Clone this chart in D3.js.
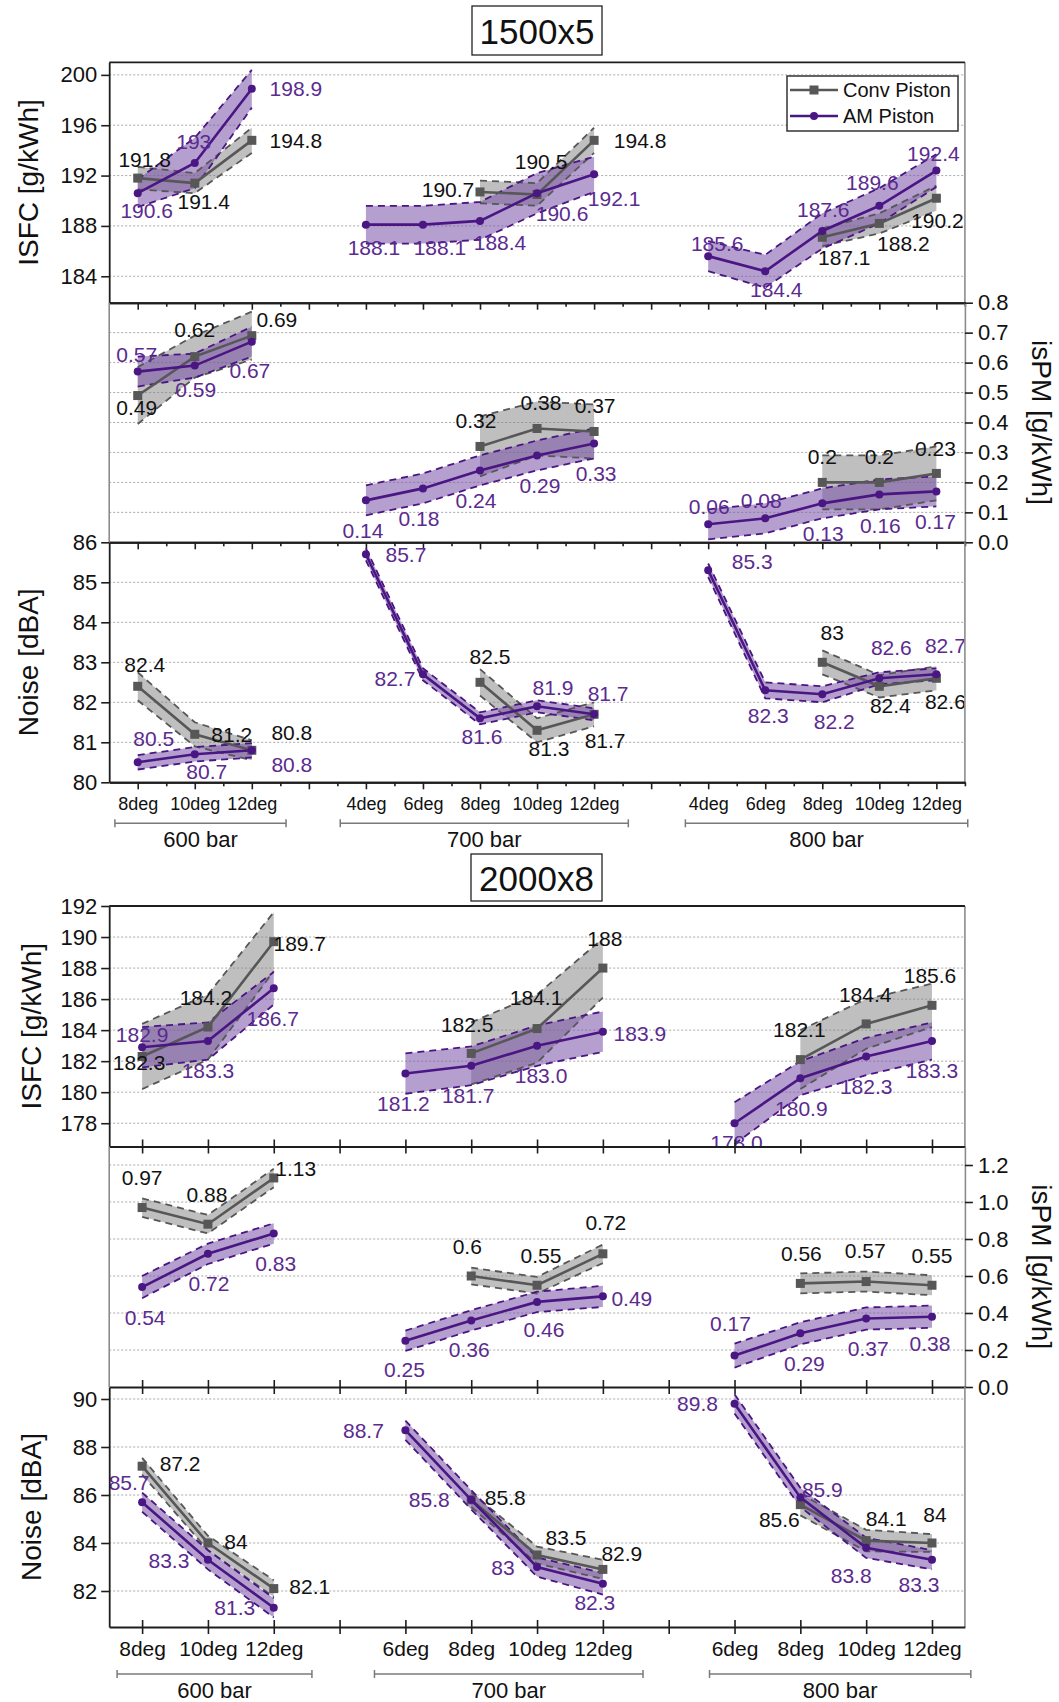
<!DOCTYPE html>
<html><head><meta charset="utf-8">
<script src="https://cdn.jsdelivr.net/npm/d3@7"></script>
<style>
body{margin:0;background:#fff}
svg{display:block;font-family:"Liberation Sans",Arial,sans-serif}
</style>
</head><body>
<svg id="c" width="1059" height="1702"></svg>
<script>
// ---------------- DATA ----------------
const seriesNames = ["Conv Piston", "AM Piston"];
const chartTitles = ["1500x5", "2000x8"];

// 1500x5
const catsA = ["8deg","10deg","12deg","","4deg","6deg","8deg","10deg","12deg","","4deg","6deg","8deg","10deg","12deg"];
const groupsA = ["600 bar","700 bar","800 bar"];
const isfcA_conv    = [191.8,191.4,194.8,null,null,null,190.7,190.5,194.8,null,null,null,187.1,188.2,190.2];
const isfcA_convErr = [0.9,0.8,1.0,null,null,null,0.9,0.9,1.0,null,null,null,0.7,0.8,1.0];
const isfcA_am      = [190.6,193,198.9,null,188.1,188.1,188.4,190.6,192.1,null,185.6,184.4,187.6,189.6,192.4];
const isfcA_amErr   = [1.1,2.0,1.5,null,1.5,1.5,1.5,1.6,1.4,null,1.2,1.3,1.4,1.4,1.3];
const pmA_conv      = [0.49,0.62,0.69,null,null,null,0.32,0.38,0.37,null,null,null,0.2,0.2,0.23];
const pmA_convErr   = [0.095,0.07,0.08,null,null,null,0.1,0.09,0.09,null,null,null,0.09,0.09,0.09];
const pmA_am        = [0.57,0.59,0.67,null,0.14,0.18,0.24,0.29,0.33,null,0.06,0.08,0.13,0.16,0.17];
const pmA_amErr     = [0.05,0.04,0.05,null,0.05,0.05,0.05,0.05,0.05,null,0.05,0.05,0.05,0.05,0.05];
const noiseA_conv    = [82.4,81.2,80.8,null,null,null,82.5,81.3,81.7,null,null,null,83,82.4,82.6];
const noiseA_convErr = [0.35,0.3,0.25,null,null,null,0.33,0.3,0.3,null,null,null,0.3,0.28,0.3];
const noiseA_am      = [80.5,80.7,80.8,null,85.7,82.7,81.6,81.9,81.7,null,85.3,82.3,82.2,82.6,82.7];
const noiseA_amErr   = [0.18,0.18,0.18,null,0.15,0.15,0.15,0.15,0.15,null,0.17,0.2,0.2,0.15,0.15];

// 2000x8
const catsB = ["8deg","10deg","12deg","","6deg","8deg","10deg","12deg","","6deg","8deg","10deg","12deg"];
const groupsB = ["600 bar","700 bar","800 bar"];
const isfcB_conv    = [182.3,184.2,189.7,null,null,182.5,184.1,188,null,null,182.1,184.4,185.6];
const isfcB_convErr = [2.1,2.1,1.9,null,null,2.0,2.2,1.9,null,null,1.9,1.6,1.4];
const isfcB_am      = [182.9,183.3,186.7,null,181.2,181.7,183.0,183.9,null,178.0,180.9,182.3,183.3];
const isfcB_amErr   = [1.3,1.2,1.05,null,1.3,1.25,1.3,1.3,null,1.35,1.1,1.2,1.2];
const pmB_conv      = [0.97,0.88,1.13,null,null,0.6,0.55,0.72,null,null,0.56,0.57,0.55];
const pmB_convErr   = [0.05,0.05,0.05,null,null,0.045,0.045,0.05,null,null,0.054,0.054,0.054];
const pmB_am        = [0.54,0.72,0.83,null,0.25,0.36,0.46,0.49,null,0.17,0.29,0.37,0.38];
const pmB_amErr     = [0.06,0.055,0.055,null,0.055,0.055,0.055,0.057,null,0.065,0.06,0.06,0.06];
const noiseB_conv    = [87.2,84,82.1,null,null,85.8,83.5,82.9,null,null,85.6,84.1,84];
const noiseB_convErr = [0.35,0.3,0.35,null,null,0.3,0.35,0.4,null,null,0.45,0.45,0.37];
const noiseB_am      = [85.7,83.3,81.3,null,88.7,85.8,83,82.3,null,89.8,85.9,83.8,83.3];
const noiseB_amErr   = [0.4,0.4,0.4,null,0.4,0.4,0.4,0.45,null,0.4,0.4,0.42,0.4];

// ---------------- LABEL PLACEMENT (pixel offsets from the point) ----------------
const lblA_isfcConv = [[7,-19],[9,18],[44,0],null,null,null,[-32,-2],[4,-33],[46,0],null,null,null,[22,20],[24,20],[1,22]];
const lblA_isfcAm   = [[9,17],[-1,-21],[44,0],null,[8,23],[17,23],[20,22],[25,20],[20,24],null,[9,-13],[11,18],[1,-21],[-7,-23],[-3,-17]];
const lblA_pmConv   = [[-1,12],[0,-27],[25,-16],null,null,null,[-4,-26],[4,-26],[1,-26],null,null,null,[0,-26],[0,-26],[-1,-25]];
const lblA_pmAm     = [[-1,-17],[1,24],[-2,29],null,[-3,30],[-4,30],[-4,30],[3,30],[2,30],null,[1,-18],[-4,-18],[1,30],[1,31],[-1,30]];
const lblA_nzConv   = [[7,-22],[37,0],[40,-18],null,null,null,[10,-26],[12,18],[11,26],null,null,null,[10,-30],[11,19],[9,23]];
const lblA_nzAm     = [[16,-24],[12,17],[40,14],null,[40,0],[-28,4],[2,18],[16,-19],[14,-21],null,[44,-9],[3,25],[12,27],[12,-31],[9,-29]];
const lblB_isfcConv = [[-3,6],[-2,-30],[26,2],null,null,[-4,-29],[-1,-31],[2,-30],null,null,[-1,-30],[-1,-29],[-2,-30]];
const lblB_isfcAm   = [[0,-13],[0,30],[-1,30],null,[-2,30],[-3,30],[4,30],[37,2],null,[2,19],[1,30],[0,30],[0,30]];
const lblB_pmConv   = [[0,-30],[-1,-30],[22,-9],null,null,[-4,-30],[4,-30],[3,-31],null,null,[1,-30],[-1,-31],[0,-30]];
const lblB_pmAm     = [[3,30],[1,30],[2,30],null,[-1,29],[-2,29],[7,28],[29,2],null,[-4,-32],[4,30],[2,30],[-2,27]];
const lblB_nzConv   = [[38,-3],[28,-2],[36,-2],null,null,[34,-2],[29,-18],[19,-16],null,null,[-21,15],[20,-22],[3,-29]];
const lblB_nzAm     = [[-13,-20],[-39,1],[-39,0],null,[-42,0],[-42,0],[-34,0],[-8,19],null,[-37,0],[22,-8],[-15,28],[-13,25]];

// ---------------- STYLE ----------------
const GREY = "#575757", PURPLE = "#4a1684", PURPLE_TXT = "#5b2b8f";
const GREY_FILL = "rgb(128,128,128)", PURPLE_FILL = "rgb(120,80,165)";
const AXIS = "#1e1e1e", BORDER = "#8c8c8c";
const svg = d3.select("#c");
const defs = svg.append("defs");
const f1 = d3.format(".1f");
const plain = d => String(d);
const LEFT = 109.2, RIGHT = 964.9;

const chartA = {
  title: chartTitles[0], cats: catsA, groups: groupsA,
  groupSpans: [[-0.4,2.6],[3.55,8.6],[9.6,14.55]],
  xDomain: [-0.5,14.5], left: LEFT, right: RIGHT,
  titleBox: [472,6,130,49], minorX: true, cross: false,
  xLabelSize: 18, xLabelDy: 21, bracketY: 823.3, groupY: 839, yTitleX: 28, legend: true,
  panels: [
    {kind:"isfc", y0:62.3, y1:302.7, domain:[181.9,201], major:d3.range(184,201,4), minor:d3.range(182,201,2),
     grid:[184,188,192,196,200], fmt:plain, title:"ISFC [g/kWh]",
     conv:isfcA_conv, convErr:isfcA_convErr, am:isfcA_am, amErr:isfcA_amErr,
     convLbl:lblA_isfcConv, amLbl:lblA_isfcAm, convFmt:plain, amFmt:plain},
    {kind:"pm", y0:302.7, y1:542.3, domain:[0,0.8], major:d3.range(0,0.81,0.1), minor:d3.range(0.05,0.8,0.1),
     grid:[0.1,0.2,0.3,0.4,0.5,0.6,0.7], fmt:f1, title:"isPM [g/kWh]",
     conv:pmA_conv, convErr:pmA_convErr, am:pmA_am, amErr:pmA_amErr,
     convLbl:lblA_pmConv, amLbl:lblA_pmAm, convFmt:plain, amFmt:plain},
    {kind:"noise", y0:542.3, y1:782.3, domain:[80,86], major:d3.range(80,86.01,1), minor:d3.range(80.5,86,1),
     grid:[81,82,83,84,85], fmt:plain, title:"Noise [dBA]",
     conv:noiseA_conv, convErr:noiseA_convErr, am:noiseA_am, amErr:noiseA_amErr,
     convLbl:lblA_nzConv, amLbl:lblA_nzAm, convFmt:plain, amFmt:plain}
  ]
};
const chartB = {
  title: chartTitles[1], cats: catsB, groups: groupsB,
  groupSpans: [[-0.38,2.58],[3.53,7.61],[8.62,12.59]],
  xDomain: [-0.5,12.5], left: LEFT, right: RIGHT,
  titleBox: [471,854,131,47], minorX: false, cross: true,
  xLabelSize: 21, xLabelDy: 22, bracketY: 1674, groupY: 1690, yTitleX: 31, legend: false,
  panels: [
    {kind:"isfc", y0:906, y1:1146.5, domain:[176.5,192], major:d3.range(178,192.01,2), minor:d3.range(177,192,1),
     grid:[178,180,182,184,186,188,190], fmt:plain, title:"ISFC [g/kWh]",
     conv:isfcB_conv, convErr:isfcB_convErr, am:isfcB_am, amErr:isfcB_amErr,
     convLbl:lblB_isfcConv, amLbl:lblB_isfcAm, convFmt:plain, amFmt:f1},
    {kind:"pm", y0:1146.5, y1:1387, domain:[0,1.3], major:d3.range(0,1.21,0.2), minor:d3.range(0.1,1.3,0.2),
     grid:[0.2,0.4,0.6,0.8,1.0,1.2], fmt:f1, title:"isPM [g/kWh]",
     conv:pmB_conv, convErr:pmB_convErr, am:pmB_am, amErr:pmB_amErr,
     convLbl:lblB_pmConv, amLbl:lblB_pmAm, convFmt:plain, amFmt:plain},
    {kind:"noise", y0:1387, y1:1627, domain:[80.5,90.5], major:d3.range(82,90.01,2), minor:d3.range(81,90.5,1),
     grid:[82,84,86,88,90], fmt:plain, title:"Noise [dBA]",
     conv:noiseB_conv, convErr:noiseB_convErr, am:noiseB_am, amErr:noiseB_amErr,
     convLbl:lblB_nzConv, amLbl:lblB_nzAm, convFmt:plain, amFmt:plain}
  ]
};

function runs(vals){
  const out=[]; let cur=[];
  vals.forEach((v,i)=>{ if(v==null){ if(cur.length) out.push(cur); cur=[]; } else cur.push(i); });
  if(cur.length) out.push(cur);
  return out;
}

let clipCount = 0;
function drawPanel(root, c, x, p, isLast){
  const y = d3.scaleLinear().domain(p.domain).range([p.y1, p.y0]);
  const g = root.append("g");
  const id = "clip" + (clipCount++);
  defs.append("clipPath").attr("id", id).append("rect")
    .attr("x", c.left).attr("y", p.y0).attr("width", c.right - c.left).attr("height", p.y1 - p.y0);

  g.append("g").selectAll("line").data(p.grid).join("line")
    .attr("x1", c.left).attr("x2", c.right).attr("y1", d=>y(d)).attr("y2", d=>y(d))
    .attr("stroke", "#a8a8a8").attr("stroke-width", 1).attr("stroke-dasharray", "2,2");

  const body = g.append("g").attr("clip-path", `url(#${id})`);
  const series = [
    {vals:p.conv, errs:p.convErr, lbl:p.convLbl, fmt:p.convFmt, line:GREY, fill:GREY_FILL, op:0.5, txt:"#111", marker:"square"},
    {vals:p.am, errs:p.amErr, lbl:p.amLbl, fmt:p.amFmt, line:PURPLE, fill:PURPLE_FILL, op:0.55, txt:PURPLE_TXT, marker:"circle"}
  ];
  series.forEach(s=>{
    const area = d3.area().x(i=>x(i)).y0(i=>y(s.vals[i]-s.errs[i])).y1(i=>y(s.vals[i]+s.errs[i]));
    runs(s.vals).forEach(r=>{
      body.append("path").attr("d", area(r)).attr("fill", s.fill).attr("fill-opacity", s.op);
    });
  });
  series.forEach(s=>{
    const hi = d3.line().x(i=>x(i)).y(i=>y(s.vals[i]+s.errs[i]));
    const lo = d3.line().x(i=>x(i)).y(i=>y(s.vals[i]-s.errs[i]));
    runs(s.vals).forEach(r=>{
      [hi,lo].forEach(fn=>body.append("path").attr("d", fn(r)).attr("fill","none")
        .attr("stroke", s.line).attr("stroke-width", 1.8).attr("stroke-dasharray", "7,5"));
    });
  });
  series.forEach(s=>{
    const ln = d3.line().x(i=>x(i)).y(i=>y(s.vals[i]));
    runs(s.vals).forEach(r=>{
      body.append("path").attr("d", ln(r)).attr("fill","none").attr("stroke", s.line).attr("stroke-width", 2.6);
    });
    const idx = s.vals.map((v,i)=>i).filter(i=>s.vals[i]!=null);
    if(s.marker==="square"){
      body.append("g").selectAll("rect").data(idx).join("rect")
        .attr("x", i=>x(i)-4.5).attr("y", i=>y(s.vals[i])-4.5).attr("width",9).attr("height",9).attr("fill", s.line);
    } else {
      body.append("g").selectAll("circle").data(idx).join("circle")
        .attr("cx", i=>x(i)).attr("cy", i=>y(s.vals[i])).attr("r", 4).attr("fill", s.line);
    }
  });
  series.forEach(s=>{
    const idx = s.vals.map((v,i)=>i).filter(i=>s.vals[i]!=null);
    body.append("g").selectAll("text").data(idx).join("text")
      .attr("x", i=>x(i)+s.lbl[i][0]).attr("y", i=>y(s.vals[i])+s.lbl[i][1])
      .attr("text-anchor","middle").attr("dominant-baseline","central")
      .attr("font-size", 21).attr("fill", s.txt).text(i=>s.fmt(s.vals[i]));
  });

  const isPM = p.kind === "pm";
  if(isPM){
    g.append("line").attr("x1",c.left).attr("x2",c.left).attr("y1",p.y0).attr("y2",p.y1).attr("stroke",BORDER).attr("stroke-width",1.6);
    const ax = g.append("g").attr("transform",`translate(${c.right},0)`);
    ax.call(d3.axisRight(y).tickValues(p.minor).tickSize(4).tickFormat("").tickSizeOuter(0));
    ax.call(d3.axisRight(y).tickValues(p.major).tickSize(8).tickPadding(5).tickFormat(p.fmt).tickSizeOuter(0));
    ax.selectAll(".domain").attr("stroke",BORDER).attr("stroke-width",1.6);
    ax.selectAll(".tick line").attr("stroke",AXIS).attr("stroke-width",1.6);
    ax.selectAll(".tick text").attr("font-size",22).attr("fill","#111").attr("font-family",null);
    svg.append("text").attr("transform",`translate(1041,${(p.y0+p.y1)/2}) rotate(90)`)
      .attr("text-anchor","middle").attr("dominant-baseline","central").attr("font-size",28).attr("fill","#111").text(p.title);
  } else {
    g.append("line").attr("x1",c.right).attr("x2",c.right).attr("y1",p.y0).attr("y2",p.y1).attr("stroke",BORDER).attr("stroke-width",1.6);
    const ax = g.append("g").attr("transform",`translate(${c.left},0)`);
    ax.call(d3.axisLeft(y).tickValues(p.minor).tickSize(4).tickFormat("").tickSizeOuter(0));
    ax.call(d3.axisLeft(y).tickValues(p.major).tickSize(8).tickPadding(4).tickFormat(p.fmt).tickSizeOuter(0));
    ax.selectAll(".domain").attr("stroke",AXIS).attr("stroke-width",1.8);
    ax.selectAll(".tick line").attr("stroke",AXIS).attr("stroke-width",1.6);
    ax.selectAll(".tick text").attr("font-size",22).attr("fill","#111").attr("font-family",null);
    svg.append("text").attr("transform",`translate(${c.yTitleX},${(p.y0+p.y1)/2}) rotate(-90)`)
      .attr("text-anchor","middle").attr("dominant-baseline","central").attr("font-size",28).attr("fill","#111").text(p.title);
  }
  if(p.kind==="isfc"){
    g.append("line").attr("x1",c.left).attr("x2",c.right).attr("y1",p.y0).attr("y2",p.y0).attr("stroke",AXIS).attr("stroke-width",1.8);
  }
  const xa = g.append("g").attr("transform",`translate(0,${p.y1})`);
  const majorIdx = d3.range(0, c.cats.length);
  if(c.minorX){
    xa.call(d3.axisBottom(x).tickValues(d3.range(0.5, c.cats.length, 1)).tickSize(4).tickFormat("").tickSizeOuter(0));
  }
  const xb = xa.append("g");
  xb.call(d3.axisBottom(x).tickValues(majorIdx).tickSize(7).tickFormat(i=> isLast ? c.cats[i] : "").tickSizeOuter(0));
  xa.selectAll(".domain").attr("stroke",AXIS).attr("stroke-width",2);
  xa.selectAll(".tick line").attr("stroke",AXIS).attr("stroke-width",1.6);
  if(c.cross) xb.selectAll(".tick line").attr("y1",-7);
  xb.selectAll(".tick text").attr("y", c.xLabelDy).attr("dy","0.35em")
    .attr("font-size", c.xLabelSize).attr("fill","#111").attr("font-family",null);
  return y;
}

function drawChart(c){
  const root = svg.append("g");
  const x = d3.scaleLinear().domain(c.xDomain).range([c.left, c.right]);
  c.panels.forEach((p,k)=>drawPanel(root, c, x, p, k===c.panels.length-1));

  const gb = root.append("g");
  c.groupSpans.forEach((sp,k)=>{
    const x0=x(sp[0]), x1=x(sp[1]);
    gb.append("line").attr("x1",x0).attr("x2",x1).attr("y1",c.bracketY).attr("y2",c.bracketY).attr("stroke","#7a7a7a").attr("stroke-width",1.5);
    [x0,x1].forEach(xx=>gb.append("line").attr("x1",xx).attr("x2",xx).attr("y1",c.bracketY-4).attr("y2",c.bracketY+4).attr("stroke","#7a7a7a").attr("stroke-width",1.5));
    gb.append("text").attr("x",(x0+x1)/2).attr("y",c.groupY).attr("text-anchor","middle").attr("dominant-baseline","central")
      .attr("font-size",22).attr("fill","#111").text(c.groups[k]);
  });

  const [bx,by,bw,bh] = c.titleBox;
  root.append("rect").attr("x",bx).attr("y",by).attr("width",bw).attr("height",bh).attr("fill","#fff").attr("stroke","#222").attr("stroke-width",1.3);
  root.append("text").attr("x",bx+bw/2).attr("y",by+bh/2+1).attr("text-anchor","middle").attr("dominant-baseline","central")
    .attr("font-size",35).attr("fill","#111").text(c.title);

  if(c.legend){
    const lg = root.append("g");
    lg.append("rect").attr("x",787).attr("y",76).attr("width",171).attr("height",55).attr("fill","#fff").attr("stroke","#333").attr("stroke-width",1.5);
    const rows = [{name:seriesNames[0], col:GREY, m:"square", yy:90},{name:seriesNames[1], col:PURPLE, m:"circle", yy:116}];
    rows.forEach(r=>{
      lg.append("line").attr("x1",790).attr("x2",838).attr("y1",r.yy).attr("y2",r.yy).attr("stroke",r.col).attr("stroke-width",2.6);
      if(r.m==="square") lg.append("rect").attr("x",814-4.5).attr("y",r.yy-4.5).attr("width",9).attr("height",9).attr("fill",r.col);
      else lg.append("circle").attr("cx",814).attr("cy",r.yy).attr("r",4).attr("fill",r.col);
      lg.append("text").attr("x",843).attr("y",r.yy).attr("dominant-baseline","central").attr("font-size",20).attr("fill","#111").text(r.name);
    });
  }
}

drawChart(chartA);
drawChart(chartB);
</script>
</body></html>
